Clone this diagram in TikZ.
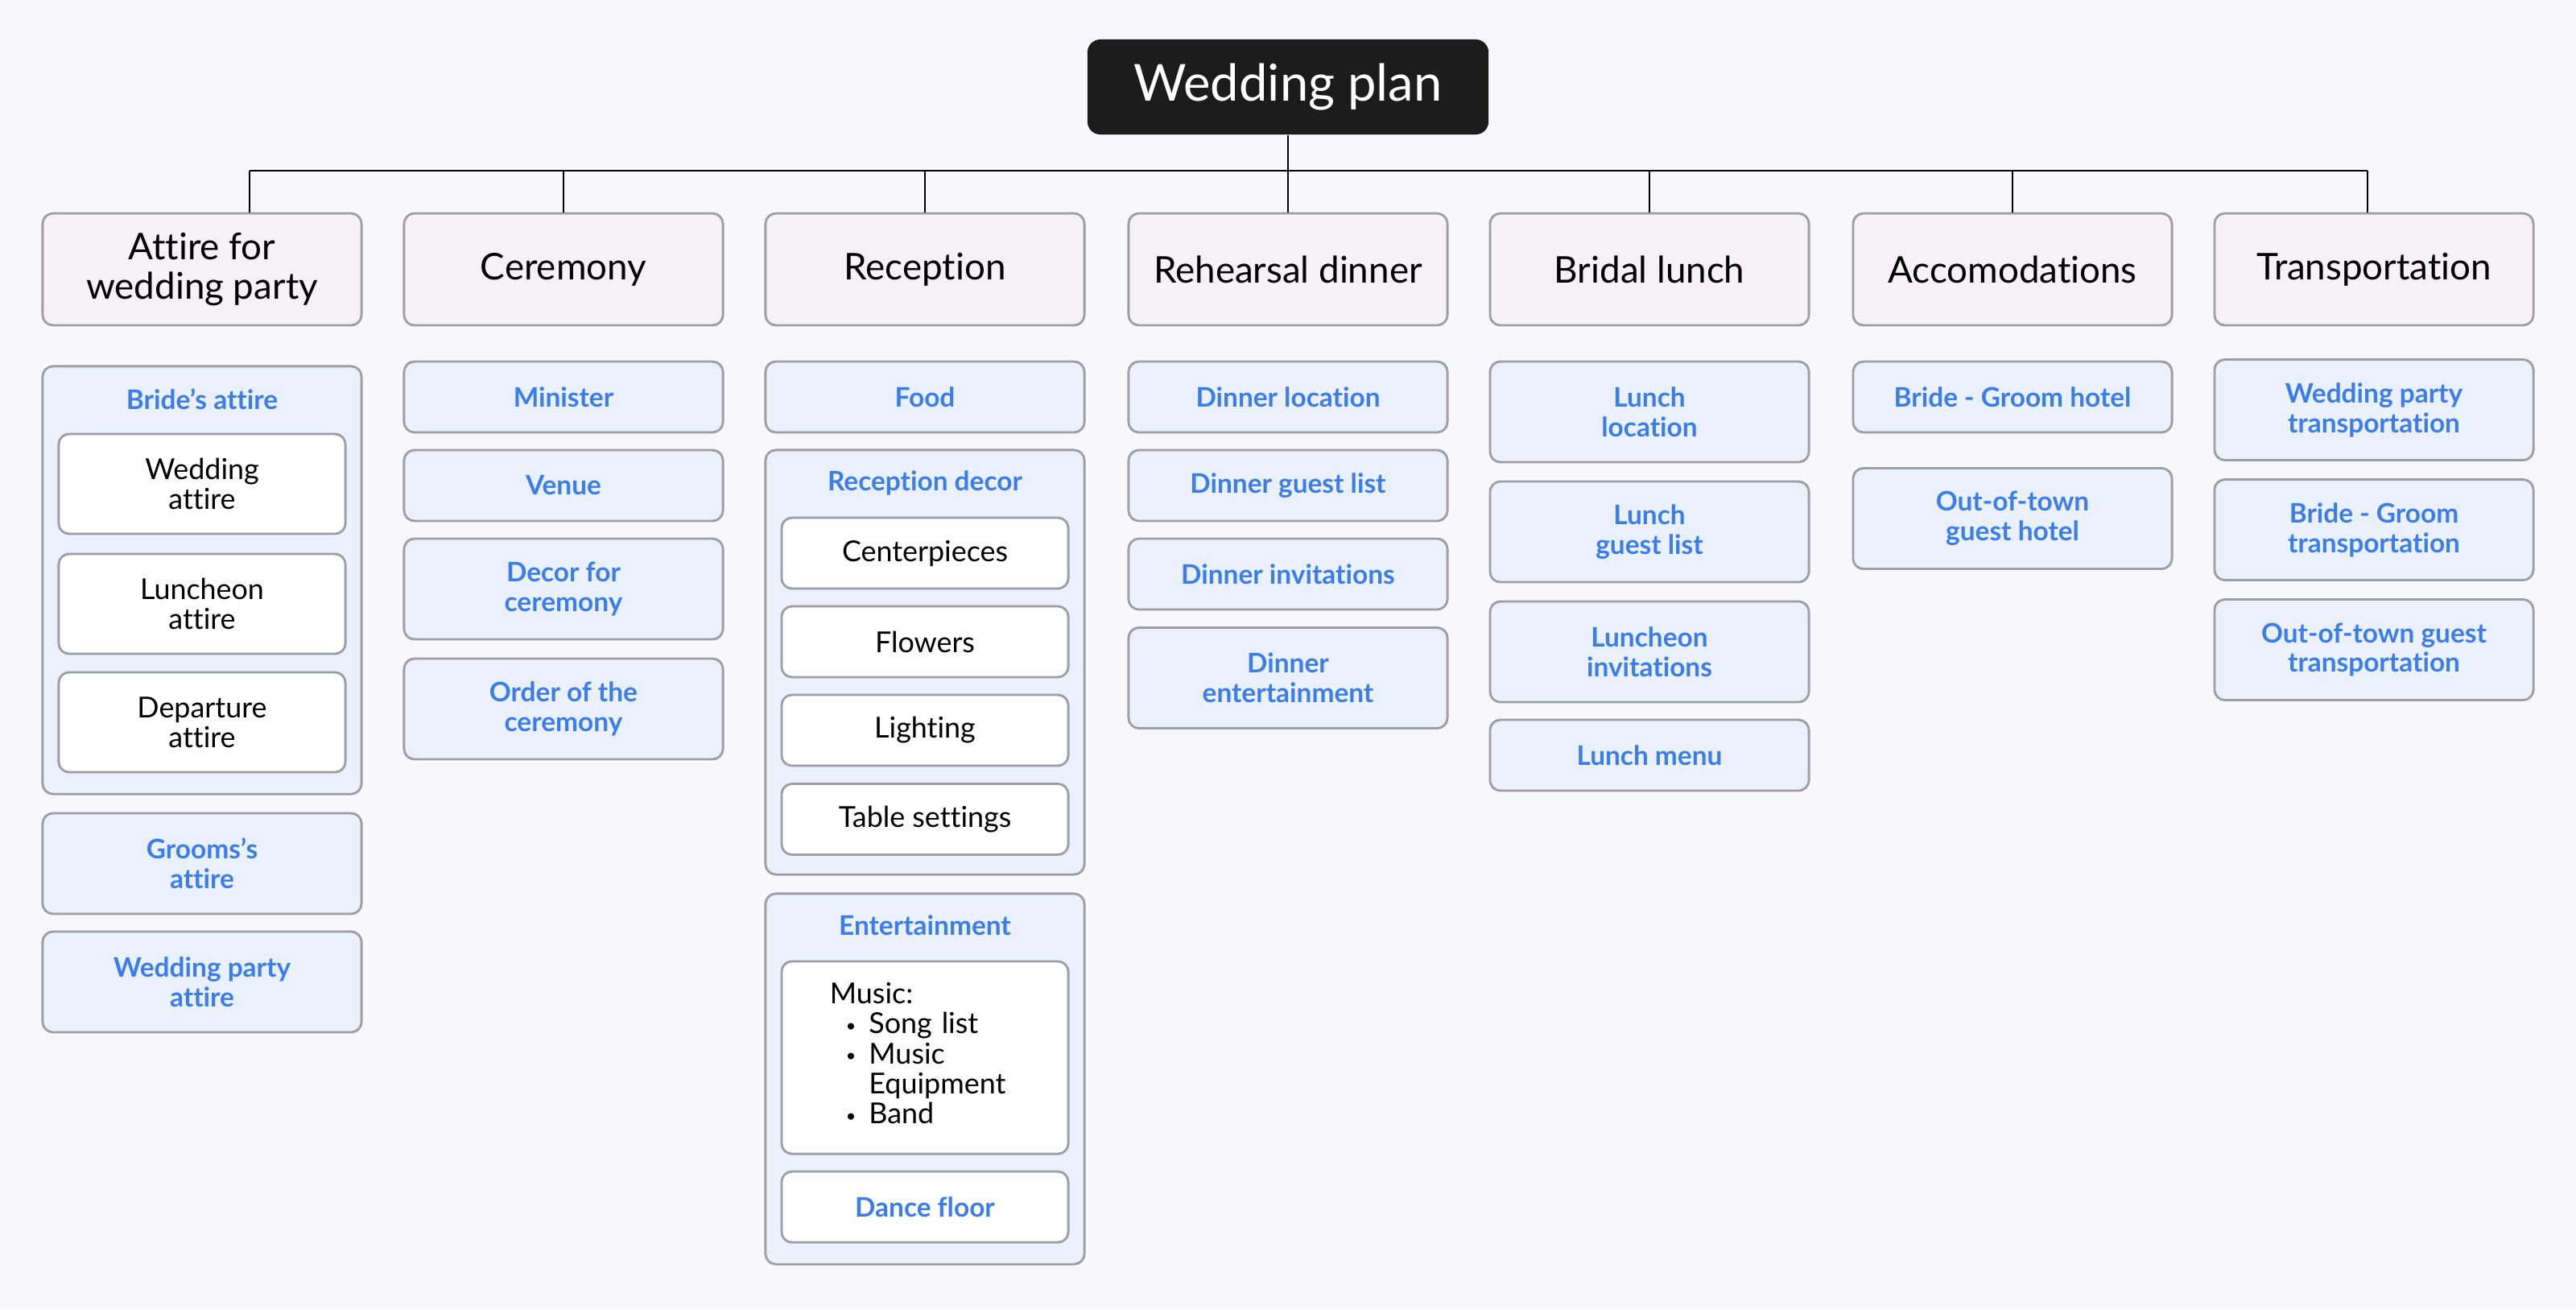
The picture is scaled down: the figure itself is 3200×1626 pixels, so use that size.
\documentclass[tikz,border=0pt]{standalone}
\usepackage{fontspec}
\setmainfont{Lato}[Ligatures=NoCommon]
\usepackage{xcolor}
\definecolor{pagebg}{RGB}{248,248,252}
\definecolor{rootfill}{RGB}{28,28,28}
\definecolor{catfill}{RGB}{244,242,245}
\definecolor{boxline}{RGB}{158,158,162}
\definecolor{itemfill}{RGB}{234,241,253}
\definecolor{itemblue}{RGB}{59,125,235}
\newcommand{\smallbullet}{\raisebox{0.15ex}{\scalebox{0.6}{\textbullet}}}

\begin{document}
\begin{tikzpicture}[x=0.01cm, y=-0.01cm,
    rootbox/.style={rectangle, rounded corners=0.16cm, fill=rootfill, text=white,
        minimum width=4.98cm, minimum height=1.18cm, font=\fontsize{18}{20}\selectfont},
    catbox/.style={rectangle, rounded corners=0.13cm, draw=boxline, line width=0.8pt, fill=catfill,
        minimum width=3.96cm, minimum height=1.39cm, align=center, font=\fontsize{13}{14}\selectfont},
    itembox/.style={rectangle, rounded corners=0.13cm, draw=boxline, line width=0.8pt, fill=itemfill,
        text=itemblue, minimum width=3.96cm, minimum height=0.88cm, align=center,
        font=\bfseries\fontsize{9.5}{10.5}\selectfont},
    tallitem/.style={itembox, minimum height=1.25cm},
    groupbox/.style={rectangle, rounded corners=0.13cm, draw=boxline, line width=0.8pt, fill=itemfill,
        minimum width=3.96cm},
    grouptitle/.style={text=itemblue, font=\bfseries\fontsize{9.5}{10.5}\selectfont},
    subbox/.style={rectangle, rounded corners=0.13cm, draw=boxline, line width=0.8pt, fill=white,
        minimum width=3.56cm, minimum height=0.88cm, align=center, font=\fontsize{10.2}{10.5}\selectfont},
    tallsub/.style={subbox, minimum height=1.24cm},
    link/.style={line width=0.8pt, black}]

    % Background
    \fill[pagebg] (0,0) rectangle (3200,1626);
    \useasboundingbox (0,0) rectangle (3200,1626);

    % Root
    \node[rootbox] (root) at (1600,108) {Wedding plan};

    % Categories
    \node[catbox] (attire) at (251,334.5) {Attire for\\wedding party};
    \node[catbox] (ceremony) at (700,334.5) {Ceremony};
    \node[catbox] (reception) at (1149,334.5) {Reception};
    \node[catbox] (rehearsal) at (1600,334.5) {Rehearsal dinner};
    \node[catbox] (lunch) at (2049,334.5) {Bridal lunch};
    \node[catbox] (accom) at (2500,334.5) {Accomodations};
    \node[catbox] (transport) at (2949,334.5) {Transportation};

    % Connectors
    \coordinate (busL) at (310,212);
    \coordinate (busR) at (2941,212);
    \draw[link] (root.south) -- (root.south |- busL);
    \draw[link] (busL) -- (busR);
    \draw[link] (busL) -- (busL |- attire.north);
    \draw[link] (busR) -- (busR |- transport.north);
    \foreach \cat in {ceremony, reception, rehearsal, lunch, accom}
        \draw[link] (\cat.north |- busL) -- (\cat.north);

    % Attire for wedding party
    \node[groupbox, minimum height=5.31cm] (brides) at (251,720.5) {};
    \node[grouptitle] (bridestitle) at (251,496) {Bride’s attire};
    \node[tallsub] (weddingattire) at (251,601) {Wedding\\attire};
    \node[tallsub] (luncheonattire) at (251,750) {Luncheon\\attire};
    \node[tallsub] (departure) at (251,897) {Departure\\attire};
    \node[tallitem] (grooms) at (251,1072.5) {Grooms’s\\attire};
    \node[tallitem] (partyattire) at (251,1219.5) {Wedding party\\attire};

    % Ceremony
    \node[itembox] (minister) at (700,493) {Minister};
    \node[itembox] (venue) at (700,603) {Venue};
    \node[tallitem] (decor) at (700,731.5) {Decor for\\ceremony};
    \node[tallitem] (order) at (700,880.5) {Order of the\\ceremony};

    % Reception
    \node[itembox] (food) at (1149,493) {Food};
    \node[groupbox, minimum height=5.27cm] (recdecor) at (1149,822.5) {};
    \node[grouptitle] (recdecortitle) at (1149,600) {Reception decor};
    \node[subbox] (centerpieces) at (1149,687) {Centerpieces};
    \node[subbox] (flowers) at (1149,797) {Flowers};
    \node[subbox] (lighting) at (1149,907) {Lighting};
    \node[subbox] (tables) at (1149,1017.5) {Table settings};
    \node[groupbox, minimum height=4.60cm] (entertain) at (1149,1340) {};
    \node[grouptitle] (entertaintitle) at (1149,1149) {Entertainment};
    \node[subbox, minimum height=2.39cm, text width=2.36cm, inner xsep=0.6cm, align=left] (music) at (1149,1313.5)
        {\begin{tabular}{@{}l@{\hspace{0.16cm}}l@{}}
            \multicolumn{2}{@{}l}{Music:}\\
            \hspace{0.2cm}\smallbullet & Song list\\
            \hspace{0.2cm}\smallbullet & Music\\
             & Equipment\\
            \hspace{0.2cm}\smallbullet & Band
        \end{tabular}};
    \node[subbox, text=itemblue, font=\bfseries\fontsize{9.5}{10.5}\selectfont] (dance) at (1149,1499) {Dance floor};

    % Rehearsal dinner
    \node[itembox] (dinnerloc) at (1600,493) {Dinner location};
    \node[itembox] (dinnerguests) at (1600,603) {Dinner guest list};
    \node[itembox] (dinnerinv) at (1600,713) {Dinner invitations};
    \node[tallitem] (dinnerent) at (1600,842) {Dinner\\entertainment};

    % Bridal lunch
    \node[tallitem] (lunchloc) at (2049,511.5) {Lunch\\location};
    \node[tallitem] (lunchguests) at (2049,660.5) {Lunch\\guest list};
    \node[tallitem] (lunchinv) at (2049,809.5) {Luncheon\\invitations};
    \node[itembox] (lunchmenu) at (2049,938) {Lunch menu};

    % Accomodations
    \node[itembox] (hotel) at (2500,493) {Bride - Groom hotel};
    \node[tallitem] (guesthotel) at (2500,644) {Out-of-town\\guest hotel};

    % Transportation
    \node[tallitem] (partytrans) at (2949,509) {Wedding party\\transportation};
    \node[tallitem] (bgtrans) at (2949,658) {Bride - Groom\\transportation};
    \node[tallitem] (guesttrans) at (2949,807) {Out-of-town guest\\transportation};
\end{tikzpicture}
\end{document}
